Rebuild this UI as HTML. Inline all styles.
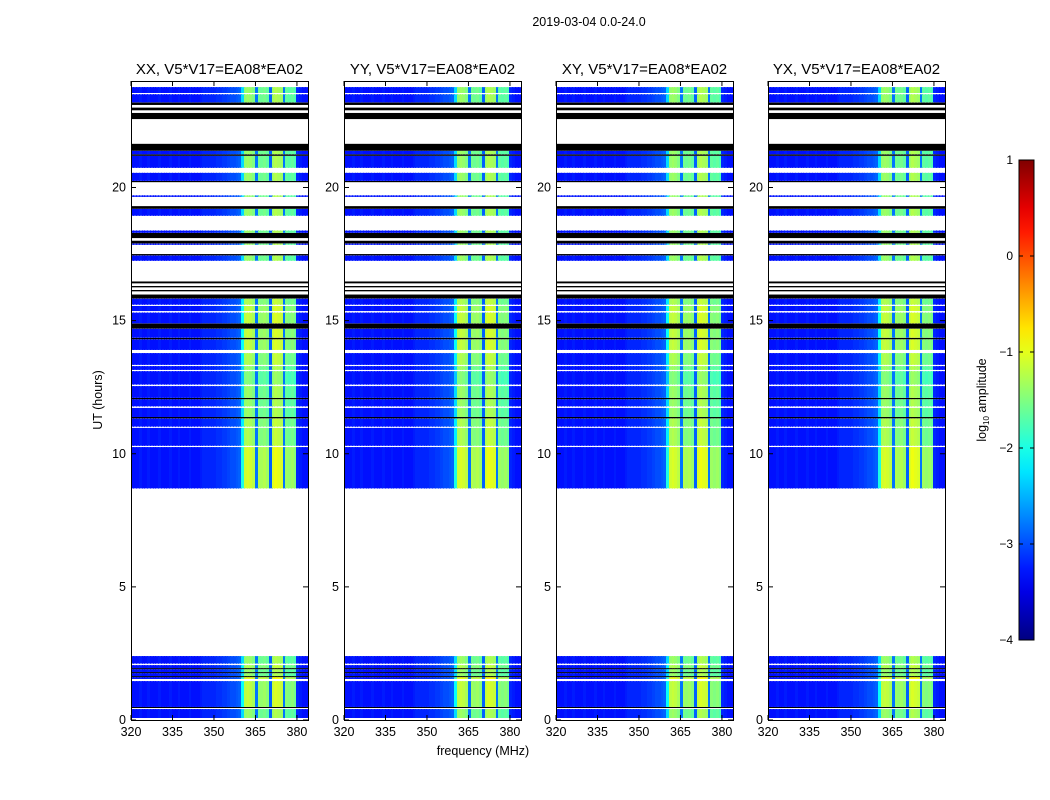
<!DOCTYPE html>
<html><head><meta charset="utf-8"><style>
body{margin:0;background:#fff;width:1050px;height:800px;overflow:hidden;font-family:"Liberation Sans",sans-serif}
#wrap{position:relative;width:1050px;height:800px}
canvas{position:absolute;image-rendering:pixelated}
svg{position:absolute;left:0;top:0}
</style></head><body>
<div id="wrap">
<svg id="ov" width="1050" height="800"></svg>
</div>
<script>
// ---- data ----
const panelTitles=["XX, V5*V17=EA08*EA02","YY, V5*V17=EA08*EA02","XY, V5*V17=EA08*EA02","YX, V5*V17=EA08*EA02"];
const freqStart=320, freqStep=1;
// log10 amplitude per 1 MHz channel, 320..383
const freqProfile=[-3.3,-3.3,-3.3,-3.25,-3.3,-3.3,-3.25,-3.3,-3.3,-3.3,-3.25,-3.3,-3.3,-3.3,-3.25,-3.3,
-3.3,-3.25,-3.3,-3.3,-3.3,-3.25,-3.3,-3.3,-3.3,-3.25,-3.2,-3.2,-3.2,-3.2,-3.2,-3.15,
-3.15,-3.1,-3.1,-3.05,-3.0,-3.0,-2.95,-2.9,-2.3,-1.4,-1.35,-1.4,-1.5,-2.8,-1.55,-1.6,
-1.55,-1.65,-2.9,-1.35,-1.25,-1.3,-1.35,-2.8,-1.65,-1.7,-1.65,-1.75,-3.2,-3.25,-3.3,-3.3];
// time segments: start hour, end hour, type (d=data, w=flagged/white, k=black), level offset
const segStart=[0,0.075,0.41,0.45,0.49,1.46,1.54,1.61,1.65,1.76,1.8,1.91,1.95,2.06,2.12,2.4,
8.7,10.25,10.3,10.97,11.02,11.33,11.38,11.72,11.78,12.05,12.1,12.54,12.6,13.1,13.15,13.29,13.34,13.78,13.9,14.3,14.36,14.7,14.9,15.3,15.36,15.55,15.6,15.83,15.98,16.1,16.15,16.25,16.3,16.4,16.47,
17.25,17.45,17.5,17.85,17.9,18.0,18.1,18.3,18.38,18.94,19.2,19.3,19.65,19.7,20.2,20.25,20.55,20.74,21.19,21.25,21.38,21.64,22.57,22.8,22.9,23.0,23.1,23.2,23.5,23.55,23.77];
const segEnd=[0.075,0.41,0.45,0.49,1.46,1.54,1.61,1.65,1.76,1.8,1.91,1.95,2.06,2.12,2.4,8.7,
10.25,10.3,10.97,11.02,11.33,11.38,11.72,11.78,12.05,12.1,12.54,12.6,13.1,13.15,13.29,13.34,13.78,13.9,14.3,14.36,14.7,14.9,15.3,15.36,15.55,15.6,15.83,15.98,16.1,16.15,16.25,16.3,16.4,16.47,17.25,
17.45,17.5,17.85,17.9,18.0,18.1,18.3,18.38,18.94,19.2,19.3,19.65,19.7,20.2,20.25,20.55,20.74,21.19,21.25,21.38,21.64,22.57,22.8,22.9,23.0,23.1,23.2,23.5,23.55,23.77,24];
const segType=["w","d","w","k","d","w","d","k","d","k","d","k","d","w","d","w",
"d","w","d","w","d","k","d","w","d","k","d","w","d","w","d","w","d","w","d","k","d","k","d","w","d","w","d","k","w","k","w","k","w","k","w",
"d","k","w","d","k","w","k","d","w","d","k","w","d","w","k","d","w","d","k","d","k","w","k","w","k","w","k","d","w","d","w"];
const segLevel=[0,0,0,0,0.2,0,0.4,0,0,0,0,0,0.1,0,0,0,
0.3,0,0.1,0,0.1,0,0,0,0,0,0,0,-0.1,0,0,0,0.1,0,0.2,0,0.2,0,0.2,0,0.2,0,0.1,0,0,0,0,0,0,0,0,
0,0,0,0,0,0,0,0,0,0,0,0,0,0,0,0,0,0,0,0,0,0,0,0,0,0,0,0,0,0,0];
const yTicks=[0,5,10,15,20];
const xTicks=[320,335,350,365,380];
const cbTicks=[1,0,-1,-2,-3,-4];

// ---- geometry ----
const lefts=[131,344,556,768], PW=177, PT=81, PB=720, vmin=-4, vmax=1;
const yS=h=>PB-h*(PB-PT)/24;
const xS=(l,f)=>l+(f-320)*PW/64;
function jet(v){let t=(v-vmin)/(vmax-vmin);t=Math.max(0,Math.min(1,t));
 const c=x=>Math.round(255*Math.max(0,Math.min(1,x)));
 return `rgb(${c(1.5-Math.abs(4*t-3))},${c(1.5-Math.abs(4*t-2))},${c(1.5-Math.abs(4*t-1))})`;}
const NS="http://www.w3.org/2000/svg", ov=document.getElementById('ov'), wrap=document.getElementById('wrap');
function mk(tag,attrs,txt){const e=document.createElementNS(NS,tag);for(const k in attrs)e.setAttribute(k,attrs[k]);if(txt!==undefined)e.textContent=txt;ov.appendChild(e);return e;}

lefts.forEach((L,p)=>{
 const cv=document.createElement('canvas');cv.width=PW;cv.height=PB-PT;
 cv.style.left=L+'px';cv.style.top=PT+'px';
 
 
 wrap.insertBefore(cv,ov);
 const g=cv.getContext('2d');g.fillStyle='#fff';g.fillRect(0,0,PW,PB-PT);
 for(let s=0;s<segStart.length;s++){
  const y0=yS(segEnd[s])-PT,y1=yS(segStart[s])-PT,hgt=Math.max(1,y1-y0);
  if(segType[s]==='w')continue;
  if(segType[s]==='k'){g.fillStyle='#000';g.fillRect(0,y0,PW,hgt);continue;}
  for(let i=0;i<freqProfile.length;i++){
   const f=freqStart+i*freqStep;
   const x0=xS(0,f),x1=xS(0,f+freqStep);
   let v=freqProfile[i]+(freqProfile[i]>-2.5?segLevel[s]:0);
   g.fillStyle=jet(v);g.fillRect(Math.floor(x0),y0,Math.ceil(x1)-Math.floor(x0),hgt);
  }
 }
 const fr=mk('rect',{x:L+0.5,y:PT+0.5,width:PW,height:PB-PT,fill:'none',stroke:'#000','stroke-width':1});
 
 const t=mk('text',{x:L+PW/2,y:74,'text-anchor':'middle','font-size':15},panelTitles[p]);
 
 yTicks.forEach(h=>{const y=yS(h);
  mk('line',{x1:L,x2:L+5,y1:y,y2:y,stroke:'#000'});mk('line',{x1:L+PW-5,x2:L+PW,y1:y,y2:y,stroke:'#000'});
  const tl=mk('text',{x:L-5,y:y+4,'text-anchor':'end','font-size':12.5},String(h));
  });
 xTicks.forEach(f=>{const x=xS(L,f);
  mk('line',{x1:x,x2:x,y1:PB,y2:PB-5,stroke:'#000'});mk('line',{x1:x,x2:x,y1:PT,y2:PT+5,stroke:'#000'});
  const tl=mk('text',{x:x,y:PB+16,'text-anchor':'middle','font-size':12.5},String(f));
  });
});
let e;
e=mk('text',{x:589,y:26,'text-anchor':'middle','font-size':12.5},'2019-03-04 0.0-24.0');

e=mk('text',{x:483,y:755,'text-anchor':'middle','font-size':12.5},'frequency (MHz)');

e=mk('text',{x:102,y:400,'text-anchor':'middle','font-size':12.5,transform:'rotate(-90 102 400)'},'UT (hours)');

const CB={x:1019,w:15,t:160,b:640};
const cbS=v=>CB.b-(v-vmin)*(CB.b-CB.t)/(vmax-vmin);
const defs=mk('defs',{});const grad=document.createElementNS(NS,'linearGradient');
grad.setAttribute('id','jg');grad.setAttribute('x1','0');grad.setAttribute('y1','1');grad.setAttribute('x2','0');grad.setAttribute('y2','0');
for(let i=0;i<=20;i++){const st=document.createElementNS(NS,'stop');st.setAttribute('offset',i/20);st.setAttribute('stop-color',jet(vmin+i/20*(vmax-vmin)));grad.appendChild(st);}
defs.appendChild(grad);
e=mk('rect',{x:CB.x,y:CB.t,width:CB.w,height:CB.b-CB.t,fill:'url(#jg)',stroke:'#000','stroke-width':1});

cbTicks.forEach(v=>{const y=cbS(v);
 mk('line',{x1:CB.x,x2:CB.x+4,y1:y,y2:y,stroke:'#000'});mk('line',{x1:CB.x+CB.w-4,x2:CB.x+CB.w,y1:y,y2:y,stroke:'#000'});
 const tl=mk('text',{x:1013,y:y+4,'text-anchor':'end','font-size':12},v<0?'\u2212'+(-v):String(v));
 });
e=mk('text',{x:986,y:400,'text-anchor':'middle','font-size':12.5,transform:'rotate(-90 986 400)'});
e.innerHTML='log<tspan font-size="8" dy="3">10</tspan><tspan dy="-3"> amplitude</tspan>';

</script>
</body></html>
